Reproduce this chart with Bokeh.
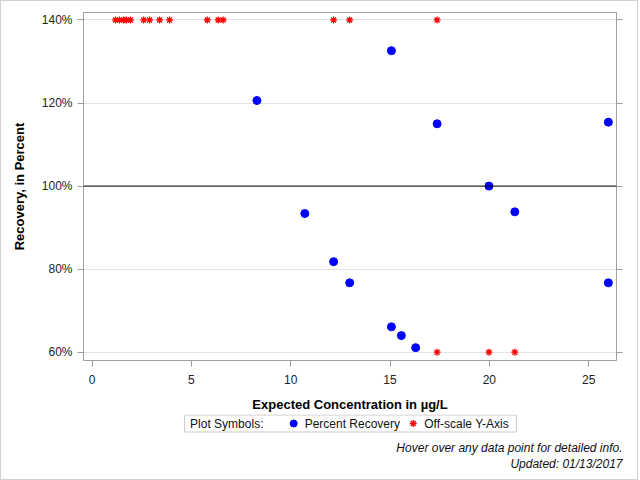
from bokeh.plotting import figure
from bokeh.layouts import column
from bokeh.models import (Range1d, FixedTicker, LinearAxis, Span, ColumnDataSource, Title,
                          PrintfTickFormatter, CustomJSTickFormatter, HoverTool)
from bokeh.core.properties import value
from bokeh.embed import file_html
from bokeh.resources import INLINE

# Measured recoveries (percent) against expected concentration (ug/L)
recovery_conc = [8.3, 10.71, 12.16, 12.97, 15.07, 15.07, 15.57, 16.29, 17.37, 19.98, 21.28, 25.99, 25.99]
recovery_pct = [120.6, 93.4, 81.8, 76.7, 132.6, 66.1, 64.0, 61.1, 115.0, 100.0, 93.8, 115.4, 76.7]

# Recoveries beyond the axis limits, pinned to the top or bottom edge
offscale_high_conc = [1.18, 1.38, 1.58, 1.73, 1.93, 2.6, 2.9, 3.4, 3.9, 5.8, 6.35, 6.6, 12.16, 12.97, 17.37]
offscale_high_pct = [140] * len(offscale_high_conc)
offscale_low_conc = [17.37, 19.98, 21.28]
offscale_low_pct = [60] * len(offscale_low_conc)

x_ticks = [0, 5, 10, 15, 20, 25]
y_ticks = [60, 80, 100, 120, 140]

legend_labels = ["Percent Recovery", "Off-scale Y-Axis"]
legend_title = "Plot Symbols:"
footnotes = ["Hover over any data point for detailed info.", "Updated: 01/13/2017"]

FONT = "Liberation Sans"
FRAME = "#a0a0a0"
REC_STYLE = dict(marker="circle", size=8, fill_color="#0000ff", line_color="#0000ff")
OFF_STYLE = dict(marker="asterisk", size=7, line_color="#ff0000", line_width=1.3)

# ---- main scatter panel ----
p = figure(width=638, height=413,
           x_range=Range1d(-0.43, 26.4), y_range=Range1d(58.0, 141.8),
           output_backend="svg", toolbar_location=None,
           min_border_left=82, min_border_right=21,
           min_border_top=11, min_border_bottom=54,
           x_axis_label="Expected Concentration in \u00b5g/L",
           y_axis_label="Recovery, in Percent")
p.outline_line_color = FRAME
p.border_fill_color = "white"

for ax in (p.xaxis[0], p.yaxis[0]):
    ax.axis_line_color = FRAME
    ax.major_tick_line_color = FRAME
    ax.major_tick_out = 6
    ax.major_tick_in = 0
    ax.minor_tick_line_color = None
    ax.major_label_text_font = FONT
    ax.major_label_text_font_size = "12px"
    ax.major_label_text_color = "#222222"
    ax.axis_label_text_font = FONT
    ax.axis_label_text_font_size = "13px"
    ax.axis_label_text_font_style = "bold"
    ax.axis_label_text_color = "black"

p.xaxis[0].ticker = FixedTicker(ticks=x_ticks)
p.xaxis[0].major_label_standoff = 8
p.xaxis[0].axis_label_standoff = 10

p.yaxis[0].ticker = FixedTicker(ticks=y_ticks)
p.yaxis[0].formatter = PrintfTickFormatter(format="%d%%")
p.yaxis[0].major_label_standoff = 5
p.yaxis[0].axis_label_standoff = 12

right = LinearAxis(ticker=FixedTicker(ticks=y_ticks), axis_line_color=FRAME,
                   major_tick_line_color=FRAME, major_tick_out=6, major_tick_in=0,
                   minor_tick_line_color=None,
                   formatter=CustomJSTickFormatter(code="return ''"))
p.add_layout(right, "right")

p.xgrid.grid_line_color = None
p.ygrid.ticker = FixedTicker(ticks=y_ticks)
p.ygrid.grid_line_color = "#e4e4e4"

# 100% reference line
p.add_layout(Span(location=100, dimension="width", line_color="black", line_width=1))

src = ColumnDataSource(dict(conc=recovery_conc, pct=recovery_pct))
rec = p.scatter("conc", "pct", source=src, **REC_STYLE)
p.scatter(offscale_high_conc, offscale_high_pct, **OFF_STYLE)
p.scatter(offscale_low_conc, offscale_low_pct, **OFF_STYLE)
p.add_tools(HoverTool(renderers=[rec], tooltips=[("Concentration", "@conc"),
                                                  ("Recovery", "@pct%")]))

# ---- legend + footnote strip ----
# The column aligns this strip's frame with the scatter frame (page x 83..618),
# so the ranges are expressed in page pixels over that span.
q = figure(width=638, height=65, x_range=Range1d(83, 618), y_range=Range1d(439, 414),
           output_backend="svg", toolbar_location=None,
           min_border_left=82, min_border_right=21, min_border_top=0, min_border_bottom=40,
           x_axis_location=None, y_axis_location=None)
q.outline_line_color = None
q.grid.grid_line_color = None
q.border_fill_color = "white"

q.quad(left=[184.5], right=[517.5], top=[414.5], bottom=[431.5],
       fill_color=None, line_color="#c8c8c8", line_width=1)
q.text(x=[190, 305, 425], y=[423, 423, 423],
       text=[legend_title] + legend_labels,
       text_font=value(FONT), text_font_size="12px", text_color="#111111",
       text_baseline="middle", text_align="left")
q.scatter(x=[294], y=[423], **dict(REC_STYLE, size=7))
q.scatter(x=[414], y=[423], **dict(OFF_STYLE, size=7))

# footnotes, right-aligned just past the frame's right edge
for text in footnotes:
    q.add_layout(Title(text=text, align="right", vertical_align="middle", offset=-6,
                       standoff=0, text_font=FONT, text_font_size="12px",
                       text_font_style="italic", text_color="#111111"), "below")

layout = column(p, q, spacing=0)
layout.styles = {"border": "1px solid #d0d0d0", "width": "638px"}

open("out.html", "w").write(file_html(layout, INLINE))
